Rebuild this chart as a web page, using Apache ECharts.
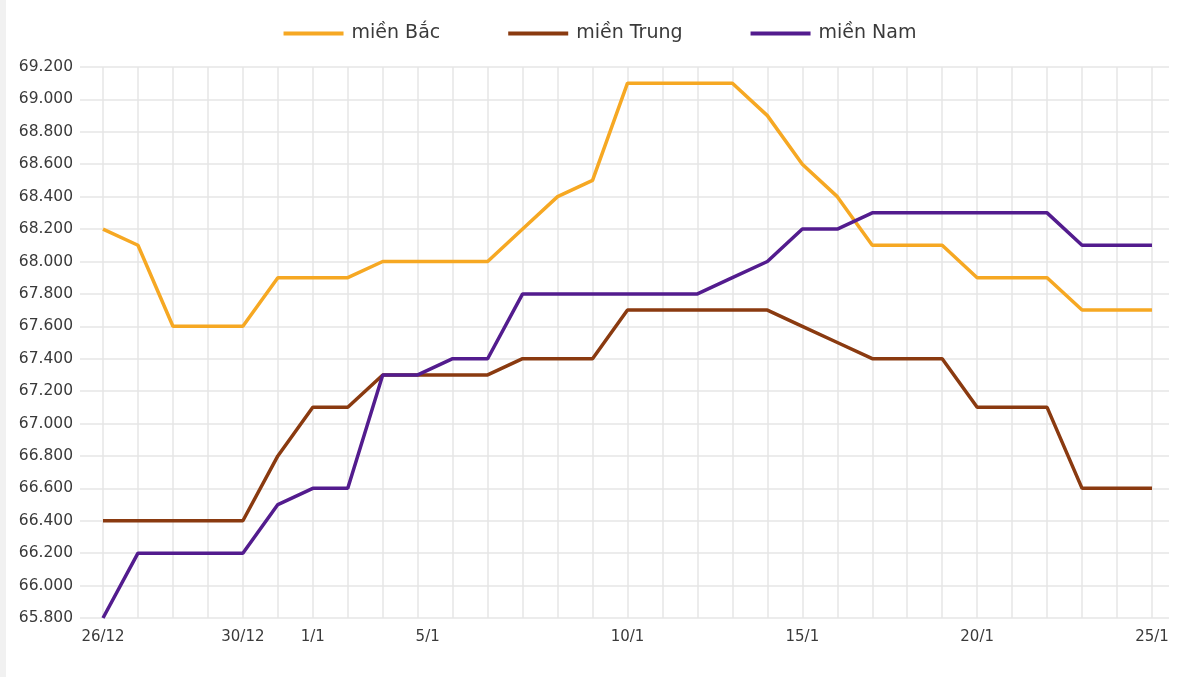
<!DOCTYPE html>
<html>
<head>
<meta charset="utf-8">
<script src="https://cdn.jsdelivr.net/npm/echarts@6/dist/echarts.min.js"></script>
<style>
html,body{margin:0;padding:0;background:#fff;}
#chart{width:1200px;height:677px;}
</style>
</head>
<body>
<div id="chart"></div>
<script>
const categories = ['26/12','27/12','28/12','29/12','30/12','31/12','1/1','2/1','3/1','4/1','5/1','6/1','7/1','8/1','9/1','10/1','11/1','12/1','13/1','14/1','15/1','16/1','17/1','18/1','19/1','20/1','21/1','22/1','23/1','24/1','25/1'];
const tickLabels = ['26/12','30/12','1/1','5/1','10/1','15/1','20/1','25/1'];
const seriesNames = ['miền Bắc','miền Trung','miền Nam'];
const mienBac = [68200,68100,67600,67600,67600,67900,67900,67900,68000,68000,68000,68000,68200,68400,68500,69100,69100,69100,69100,68900,68600,68400,68100,68100,68100,67900,67900,67900,67700,67700,67700];
const mienTrung = [66400,66400,66400,66400,66400,66800,67100,67100,67300,67300,67300,67300,67400,67400,67400,67700,67700,67700,67700,67700,67600,67500,67400,67400,67400,67100,67100,67100,66600,66600,66600];
const mienNam = [65800,66200,66200,66200,66200,66500,66600,66600,67300,67300,67400,67400,67800,67800,67800,67800,67800,67800,67900,68000,68200,68200,68300,68300,68300,68300,68300,68300,68100,68100,68100];
const yMin = 65800, yMax = 69200, yStep = 200;

const colors = ['#F6A823','#8A3A10','#531C8E'];
const font = 'DejaVu Sans';
const textColor = '#3a3a3a';
const gridLineColor = '#e6e6e6';

const chart = echarts.init(document.getElementById('chart'), null, {renderer:'canvas'});
const tickSet = new Set(tickLabels);
chart.setOption({
  backgroundColor:'#ffffff',
  animation:false,
  color: colors,
  graphic:[{type:'rect', left:0, top:0, shape:{width:6, height:677}, style:{fill:'#f1f1f1'}, z:-10}],
  legend:{
    top:19, left:'center',
    icon:'rect', itemWidth:60, itemHeight:4, itemGap:68,
    textStyle:{fontFamily:font, fontSize:19, color:textColor, padding:[0,0,0,3]},
    data: seriesNames
  },
  grid:[
    {left:80, right:31, top:67, bottom:59},
    {left:103, right:48, top:67, bottom:59}
  ],
  xAxis:[
    {gridIndex:0, type:'value', min:0, max:1, show:false},
    {gridIndex:1, type:'category', data:categories, boundaryGap:false,
     axisLine:{show:false}, axisTick:{show:false},
     splitLine:{show:true, interval:0, lineStyle:{color:gridLineColor, width:1.5}},
     axisLabel:{
       interval:(i,v)=>tickSet.has(v),
       margin:12, fontFamily:font, fontSize:15, color:textColor,
       formatter:(v)=> v==='5/1' ? '{s|'+v+'}' : v,
       rich:{s:{fontFamily:font, fontSize:15, color:textColor, padding:[0,50,0,0]}}
     }}
  ],
  yAxis:[
    {gridIndex:0, type:'value', min:yMin, max:yMax, interval:yStep,
     axisLine:{show:false}, axisTick:{show:false},
     splitLine:{show:true, lineStyle:{color:gridLineColor, width:1.5}},
     axisLabel:{margin:7, fontFamily:font, fontSize:15.5, color:textColor,
       formatter:(v)=>(v/1000).toFixed(3)}},
    {gridIndex:1, type:'value', min:yMin, max:yMax, interval:yStep, show:false, splitLine:{show:false}}
  ],
  series:[
    {name:seriesNames[0], type:'line', xAxisIndex:1, yAxisIndex:1, data:mienBac, symbol:'none', lineStyle:{width:3.5}},
    {name:seriesNames[1], type:'line', xAxisIndex:1, yAxisIndex:1, data:mienTrung, symbol:'none', lineStyle:{width:3.5}},
    {name:seriesNames[2], type:'line', xAxisIndex:1, yAxisIndex:1, data:mienNam, symbol:'none', lineStyle:{width:3.5}}
  ]
});
</script>
</body>
</html>
